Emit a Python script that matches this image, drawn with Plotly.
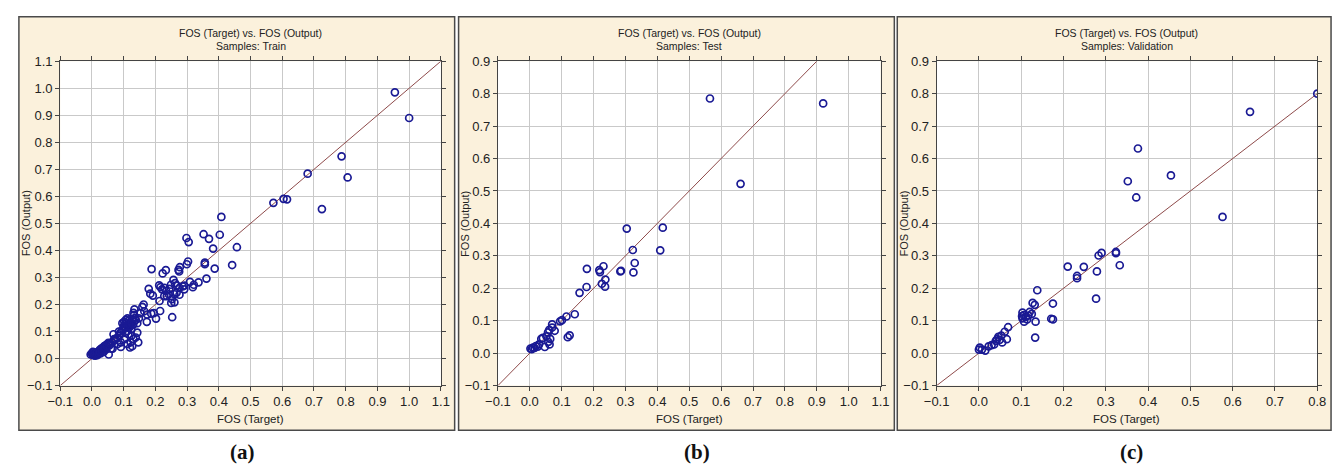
import plotly.graph_objects as go

# ---------------- data ----------------
train_target = [0.955, 1.0, 0.787, 0.806, 0.68, 0.725, 0.572, 0.604, 0.615, 0.408,
                0.298, 0.305, 0.352, 0.369, 0.403, 0.382, 0.457, 0.442, 0.387, 0.356,
                0.356, 0.303, 0.299, 0.277, 0.273, 0.275, 0.233, 0.223, 0.188, 0.179,
                0.184, 0.192, 0.361, 0.336, 0.318, 0.321, 0.309, 0.291,
                0.212, 0.216, 0.221, 0.228, 0.234, 0.244, 0.249, 0.257, 0.262, 0.267,
                0.276, 0.286, 0.291, 0.267, 0.260, 0.252, 0.250, 0.260, 0.276, 0.242,
                0.236, 0.228, 0.213, 0.253, 0.215, 0.202, 0.174, 0.195, 0.187, 0.173,
                0.163, 0.159, 0.165, 0.153, 0.134, 0.131, 0.133, 0.148,
                0.096, 0.102, 0.107, 0.112, 0.117, 0.122, 0.127, 0.102, 0.107, 0.112,
                0.099, 0.117, 0.122, 0.133, 0.138, 0.143, 0.112, 0.124,
                0.143, 0.138, 0.131, 0.122, 0.127, 0.120, 0.112, 0.102, 0.091, 0.081,
                0.068, 0.065, 0.053, 0.070, 0.086, 0.146, 0.091,
                -0.004, 0.0, 0.004, 0.008, 0.013, 0.019, 0.024, 0.029, 0.034, 0.039,
                0.045, 0.050, 0.003, 0.010, 0.017, 0.027, 0.037, 0.045, 0.055, 0.060,
                0.002, 0.006, 0.011, 0.015, 0.021, 0.025, 0.031, 0.036, 0.041, 0.047,
                0.052, 0.058, 0.063, 0.070, 0.075, 0.080, 0.085, 0.090, 0.095, 0.100,
                0.104, 0.108, 0.113, 0.118, 0.125, 0.130, 0.135, 0.105, 0.115, 0.125]
train_output = [0.985, 0.89, 0.748, 0.67, 0.684, 0.553, 0.576, 0.591, 0.589, 0.524,
                0.446, 0.431, 0.460, 0.443, 0.458, 0.407, 0.412, 0.346, 0.333, 0.349,
                0.355, 0.359, 0.349, 0.338, 0.328, 0.322, 0.327, 0.315, 0.331, 0.258,
                0.240, 0.233, 0.296, 0.282, 0.264, 0.273, 0.284, 0.270,
                0.271, 0.264, 0.256, 0.262, 0.250, 0.258, 0.273, 0.291, 0.279, 0.271,
                0.262, 0.267, 0.256, 0.244, 0.238, 0.220, 0.206, 0.208, 0.236, 0.238,
                0.231, 0.231, 0.213, 0.153, 0.176, 0.148, 0.163, 0.168, 0.166, 0.136,
                0.200, 0.191, 0.175, 0.168, 0.182, 0.169, 0.161, 0.149,
                0.131, 0.137, 0.143, 0.149, 0.141, 0.134, 0.146, 0.120, 0.114, 0.125,
                0.108, 0.114, 0.122, 0.137, 0.143, 0.131, 0.102, 0.108,
                0.096, 0.078, 0.072, 0.060, 0.046, 0.041, 0.054, 0.072, 0.060, 0.054,
                0.090, 0.037, 0.015, 0.072, 0.084, 0.060, 0.043,
                0.015, 0.019, 0.013, 0.018, 0.022, 0.025, 0.031, 0.037, 0.039, 0.046,
                0.051, 0.054, 0.025, 0.011, 0.013, 0.019, 0.025, 0.034, 0.049, 0.037,
                0.016, 0.014, 0.016, 0.020, 0.018, 0.024, 0.030, 0.042, 0.040, 0.045,
                0.058, 0.055, 0.060, 0.066, 0.072, 0.078, 0.100, 0.095, 0.105, 0.118,
                0.127, 0.132, 0.118, 0.128, 0.130, 0.125, 0.150, 0.095, 0.090, 0.085]

test_target = [0.565, 0.92, 0.661, 0.304, 0.417, 0.323, 0.409, 0.329, 0.325, 0.284,
               0.286, 0.218, 0.220, 0.231, 0.237, 0.226, 0.236, 0.179, 0.178, 0.156,
               0.141, 0.115, 0.101, 0.095, 0.125, 0.119,
               0.070, 0.078, 0.070, 0.061, 0.057, 0.064, 0.062, 0.052, 0.041, 0.036,
               0.047, 0.058, 0.029, 0.019, 0.010, 0.002, 0.006, 0.015, 0.025]
test_output = [0.785, 0.77, 0.522, 0.384, 0.387, 0.318, 0.317, 0.278, 0.249, 0.252,
               0.254, 0.256, 0.250, 0.268, 0.227, 0.214, 0.205, 0.260, 0.204, 0.186,
               0.120, 0.113, 0.102, 0.098, 0.055, 0.049,
               0.089, 0.069, 0.079, 0.072, 0.064, 0.044, 0.027, 0.052, 0.047, 0.044,
               0.019, 0.035, 0.027, 0.022, 0.017, 0.014, 0.012, 0.016, 0.020]

val_target = [0.8, 0.641, 0.376, 0.352, 0.372, 0.454, 0.576,
              0.324, 0.324, 0.333, 0.290, 0.283, 0.279, 0.277, 0.248, 0.210, 0.232,
              0.232, 0.138, 0.127, 0.132, 0.175, 0.171, 0.175, 0.134, 0.133,
              0.103, 0.106, 0.103, 0.107, 0.111, 0.117, 0.120, 0.125, 0.114, 0.102,
              0.069, 0.061, 0.066, 0.053, 0.055, 0.046, 0.040, 0.036, 0.030, 0.023,
              0.015, 0.007, 0.002, 0.0, 0.049, 0.043]
val_output = [0.8, 0.744, 0.631, 0.530, 0.480, 0.548, 0.420,
              0.312, 0.308, 0.271, 0.309, 0.301, 0.252, 0.168, 0.266, 0.267, 0.238,
              0.231, 0.194, 0.155, 0.149, 0.153, 0.106, 0.104, 0.097, 0.048,
              0.125, 0.117, 0.107, 0.097, 0.112, 0.116, 0.127, 0.121, 0.104, 0.114,
              0.080, 0.066, 0.043, 0.054, 0.033, 0.050, 0.038, 0.027, 0.025, 0.021,
              0.008, 0.011, 0.017, 0.011, 0.041, 0.043]

sample_names = ["Train", "Test", "Validation"]
panel_letters = ["(a)", "(b)", "(c)"]
x_ranges = [[-0.1, 1.1], [-0.1, 1.1], [-0.1, 0.8]]
y_ranges = [[-0.1, 1.1], [-0.1, 0.9], [-0.1, 0.9]]

# ---------------- layout geometry (pixels) ----------------
W, H = 1343, 473
plot_px = [(48, 435), (493, 882), (939, 1326)]
plot_top, plot_bot = 56, 391
panel_px = [(6, 449), (453, 896), (899, 1340)]
panel_top, panel_bot = 10, 437
ytitle_px = [14, 460, 906]
letter_px = [233, 695, 1137]

SANS = "Liberation Sans Narrow, Arial Narrow, Liberation Sans, Arial"
SERIF = "Liberation Serif, Times New Roman, serif"
MARK = "#1a1a94"
LINE = "#8e4a4a"

def fx(px):
    return px / W

def fy(py):
    return 1 - py / H

fig = go.Figure()
datasets = [(train_target, train_output), (test_target, test_output), (val_target, val_output)]

shapes = []
annotations = []

def label(text, x, y, size=11, family=SANS, angle=0, color="#222"):
    return dict(text=text, x=x, y=y, xref="paper", yref="paper", showarrow=False,
                xanchor="center", yanchor="middle", textangle=angle,
                font=dict(family=family, size=size, color=color))

for i, (tx, ty) in enumerate(datasets):
    n = "" if i == 0 else str(i + 1)
    xa, ya = "x" + n, "y" + n
    lo = max(x_ranges[i][0], y_ranges[i][0])
    hi = min(x_ranges[i][1], y_ranges[i][1])
    fig.add_trace(go.Scatter(x=[lo, hi], y=[lo, hi], mode="lines",
                             line=dict(color=LINE, width=1), xaxis=xa, yaxis=ya,
                             showlegend=False, hoverinfo="skip"))
    fig.add_trace(go.Scatter(x=tx, y=ty, mode="markers",
                             marker=dict(symbol="circle-open", size=7, color=MARK,
                                         line=dict(width=1.7, color=MARK)),
                             xaxis=xa, yaxis=ya, showlegend=False))
    axis_common = dict(showgrid=True, gridcolor="#c9c9c9", gridwidth=1, zeroline=False,
                       showline=True, linecolor="#444", linewidth=1, mirror="ticks",
                       ticks="outside", ticklen=4, tickcolor="#444", dtick=0.1,
                       tickformat=".1f", tickfont=dict(family=SANS, size=13, color="#222"))
    fig.layout["xaxis" + n] = dict(axis_common, domain=[fx(plot_px[i][0]), fx(plot_px[i][1])],
                                   range=x_ranges[i], anchor=ya, tick0=-0.1)
    fig.layout["yaxis" + n] = dict(axis_common, domain=[fy(plot_bot), fy(plot_top)],
                                   range=y_ranges[i], anchor=xa, tick0=-0.1)
    # panel background
    shapes.append(dict(type="rect", xref="paper", yref="paper", layer="below",
                       x0=fx(panel_px[i][0]), x1=fx(panel_px[i][1]),
                       y0=fy(panel_bot), y1=fy(panel_top),
                       fillcolor="#fbf1dc", line=dict(color="#4a4a4a", width=1.5)))
    shapes.append(dict(type="rect", xref="paper", yref="paper", layer="below",
                       x0=fx(plot_px[i][0]), x1=fx(plot_px[i][1]),
                       y0=fy(plot_bot), y1=fy(plot_top),
                       fillcolor="white", line=dict(width=0)))
    cx = fx((plot_px[i][0] + plot_px[i][1]) / 2)
    annotations.append(label("FOS (Target) vs. FOS (Output)", cx, fy(27), size=10.5))
    annotations.append(label("Samples: " + sample_names[i], cx, fy(40), size=10.5))
    annotations.append(label("FOS (Target)", cx, fy(425), size=11.5))
    annotations.append(label("FOS (Output)", fx(ytitle_px[i]), fy((plot_top + plot_bot) / 2),
                             size=11, angle=-90))
    annotations.append(label("<b>" + panel_letters[i] + "</b>", fx(letter_px[i]), fy(460),
                             size=21, family=SERIF, color="#111"))

fig.update_layout(width=W, height=H, margin=dict(l=0, r=0, t=0, b=0),
                  paper_bgcolor="white", plot_bgcolor="rgba(0,0,0,0)",
                  shapes=shapes, annotations=annotations, showlegend=False)

fig.write_html("out.html")
